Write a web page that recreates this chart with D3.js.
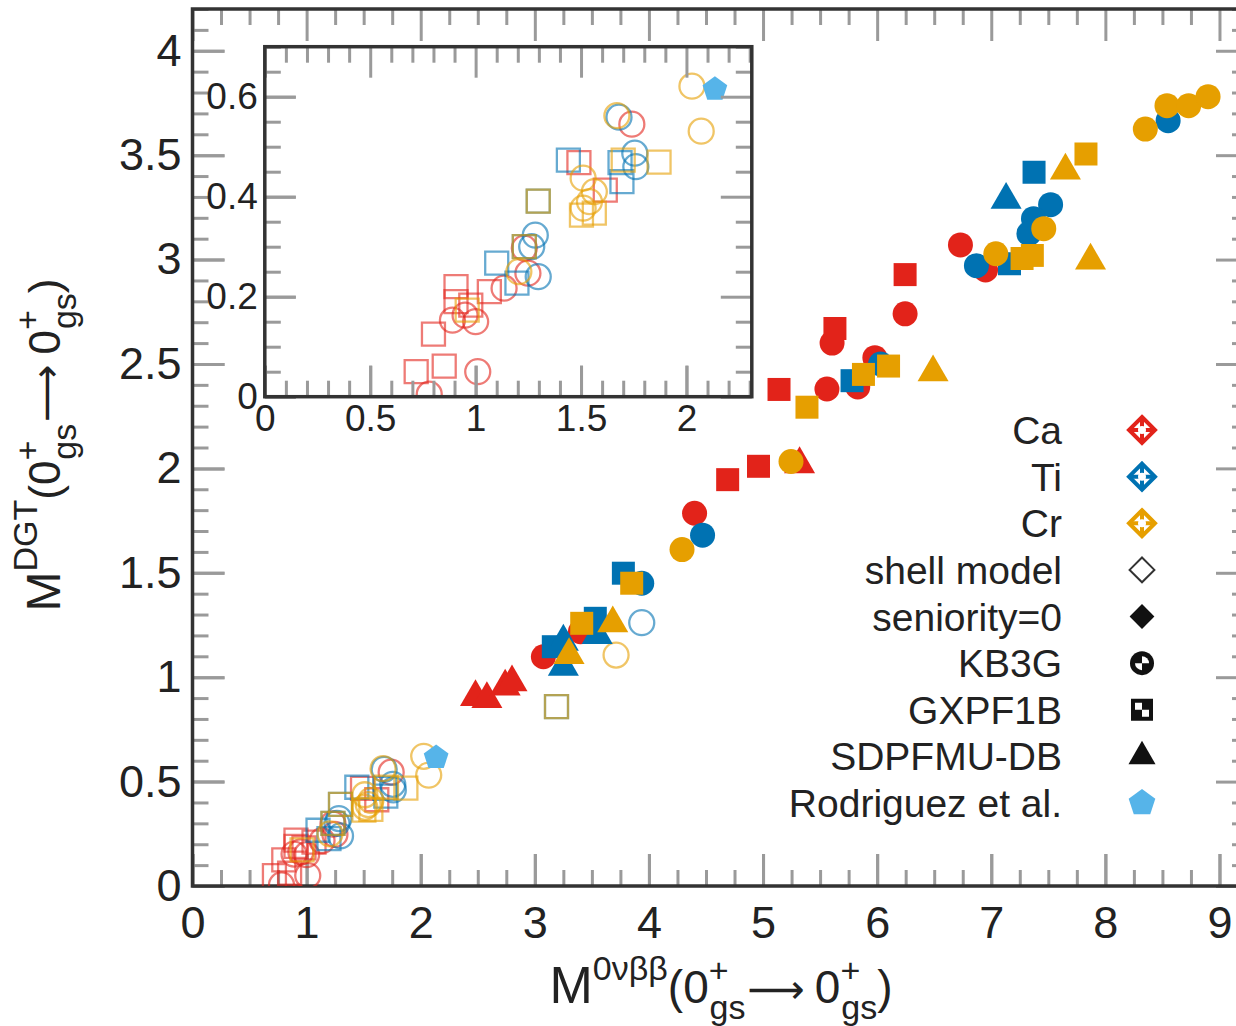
<!DOCTYPE html>
<html>
<head>
<meta charset="utf-8">
<script src="https://cdn.jsdelivr.net/npm/d3@7"></script>
<style>
body { margin: 0; background: #fff; }
svg text { font-family: "Liberation Sans", Arial, Helvetica, sans-serif; fill: #222; }
</style>
</head>
<body>
<svg id="chart" width="1236" height="1026"></svg>
<script>
// colours of the three nuclei
var red = "#e2231a", blue = "#0072b2", orange = "#e69f00", sky = "#56b4e9";

// shell model results (open markers), [M0vbb, MDGT]
var caKB3GShell = [[0.78,0.005],[1.01,0.05],[0.89,0.153],[0.95,0.163],[1.0,0.15],[1.135,0.217],[1.248,0.247],[1.231,0.297],[1.741,0.545]];
var tiKB3GShell = [[1.68,0.559],[1.755,0.487],[1.76,0.46],[1.283,0.323],[1.266,0.30],[1.297,0.24],[3.937,1.261]];
var crKB3GShell = [[2.026,0.621],[2.07,0.531],[1.67,0.562],[1.51,0.437],[1.563,0.41],[1.51,0.377],[1.54,0.39],[1.205,0.25],[3.712,1.106]];
var caGXPFShell = [[1.49,0.468],[1.615,0.413],[1.065,0.21],[0.907,0.22],[0.907,0.19],[0.977,0.183],[0.80,0.125],[0.718,0.05],[0.851,0.061]];
var tiGXPFShell = [[1.44,0.473],[1.685,0.468],[1.694,0.43],[1.297,0.391],[1.231,0.30],[1.10,0.267],[1.196,0.227],[3.19,0.859]];
var crGXPFShell = [[1.70,0.473],[1.87,0.469],[1.502,0.363],[1.563,0.367],[1.297,0.391],[1.231,0.30],[0.96,0.173],[3.19,0.859]];
var rodriguez = [[2.135,0.615]];

// seniority=0 results (filled markers)
var caKB3GSen = [[3.075,1.098],[3.40,1.218],[4.40,1.785],[5.56,2.38],[5.83,2.39],[5.98,2.53],[5.605,2.60],[6.245,2.74],[6.73,3.07],[6.95,2.95]];
var caGXPFSen = [[4.69,1.946],[4.96,2.01],[5.14,2.378],[5.63,2.67],[6.245,2.928]];
var caSDPFSen = [[2.48,0.905],[2.58,0.895],[2.74,0.955],[2.80,0.975],[5.32,2.02]];
var tiKB3GSen = [[8.55,3.665],[7.52,3.263],[7.37,3.196],[7.33,3.124],[6.87,2.971],[6.03,2.50],[4.47,1.68],[3.937,1.45]];
var tiGXPFSen = [[7.375,3.418],[7.16,2.98],[5.78,2.42],[3.776,1.498],[3.53,1.282],[3.162,1.146]];
var tiSDPFSen = [[7.13,3.286],[3.547,1.202],[3.25,1.17],[3.25,1.05]];
var crKB3GSen = [[8.35,3.625],[8.54,3.737],[8.73,3.737],[8.90,3.78],[7.46,3.148],[7.04,3.028],[5.245,2.033],[4.29,1.611]];
var crGXPFSen = [[7.83,3.505],[7.27,3.005],[7.36,3.02],[5.385,2.293],[5.88,2.45],[6.10,2.49],[3.849,1.45],[3.411,1.258]];
var crSDPFSen = [[7.65,3.426],[7.87,2.995],[6.49,2.46],[3.683,1.258],[3.30,1.106]];

// tick labels
var xTicksMain = [0,1,2,3,4,5,6,7,8,9];
var yTicksMain = [0,0.5,1,1.5,2,2.5,3,3.5,4];
var xTicksInset = [0,0.5,1,1.5,2];
var yTicksInset = [0,0.2,0.4,0.6];

var legendLabels = ["Ca","Ti","Cr","shell model","seniority=0","KB3G","GXPF1B","SDPFMU-DB","Rodriguez et al."];

var shellSeries = [
  {pts: caKB3GShell, color: red, shape: "circle"},
  {pts: caGXPFShell, color: red, shape: "square"},
  {pts: tiKB3GShell, color: blue, shape: "circle"},
  {pts: tiGXPFShell, color: blue, shape: "square"},
  {pts: crKB3GShell, color: orange, shape: "circle"},
  {pts: crGXPFShell, color: orange, shape: "square"}
];
var senSeries = [
  {pts: caKB3GSen, color: red, shape: "circle"},
  {pts: caGXPFSen, color: red, shape: "square"},
  {pts: caSDPFSen, color: red, shape: "triangle"},
  {pts: tiKB3GSen, color: blue, shape: "circle"},
  {pts: tiGXPFSen, color: blue, shape: "square"},
  {pts: tiSDPFSen, color: blue, shape: "triangle"},
  {pts: crKB3GSen, color: orange, shape: "circle"},
  {pts: crGXPFSen, color: orange, shape: "square"},
  {pts: crSDPFSen, color: orange, shape: "triangle"}
];

var svg = d3.select("#chart");

var x = d3.scaleLinear().domain([0, 9.25]).range([192.5, 1248]);
var y = d3.scaleLinear().domain([0, 4.2]).range([886, 9]);
var ix = d3.scaleLinear().domain([0, 2.31]).range([264.8, 751.8]);
var iy = d3.scaleLinear().domain([0, 0.70]).range([396.7, 46.7]);

var symbols = {
  circle: d3.symbol().type(d3.symbolCircle).size(Math.PI * 12.5 * 12.5),
  square: d3.symbol().type(d3.symbolSquare).size(23 * 23),
  triangle: d3.symbol().type(d3.symbolTriangle).size(Math.sqrt(3) / 4 * 31 * 31)
};

function pentagon(r) {
  var p = d3.path();
  for (var k = 0; k < 5; k++) {
    var a = -Math.PI / 2 + k * 2 * Math.PI / 5;
    if (k == 0) p.moveTo(r * Math.cos(a), r * Math.sin(a));
    else p.lineTo(r * Math.cos(a), r * Math.sin(a));
  }
  p.closePath();
  return p.toString();
}

function steps(lo, hi, st) {
  var n = Math.floor((hi - lo) / st + 1e-6);
  return d3.range(n + 1).map(function(i) { return +(lo + i * st).toFixed(4); });
}

// ticks on all four sides, pointing inwards
function frame(g, xs, ys, o) {
  var x0 = xs.range()[0], x1 = xs.range()[1], y0 = ys.range()[0], y1 = ys.range()[1];
  var minorX = steps(0, xs.domain()[1], o.xMinor).filter(function(v) { return Math.abs(v / o.xMajor - Math.round(v / o.xMajor)) > 1e-6; });
  var minorY = steps(0, ys.domain()[1], o.yMinor).filter(function(v) { return Math.abs(v / o.yMajor - Math.round(v / o.yMajor)) > 1e-6; });
  var majorX = steps(0, xs.domain()[1], o.xMajor), majorY = steps(0, ys.domain()[1], o.yMajor);
  var fmt = function(d) { return String(+d.toFixed(2)); };
  var strip = function(s) { s.select(".domain").remove(); s.selectAll("line").attr("stroke", "#9a9a9a").attr("stroke-width", 3); };

  g.append("g").attr("transform", "translate(0," + y0 + ")")
    .call(d3.axisBottom(xs).tickValues(minorX).tickSize(-o.short).tickFormat("")).call(strip);
  g.append("g").attr("transform", "translate(0," + y1 + ")")
    .call(d3.axisTop(xs).tickValues(minorX).tickSize(-o.short).tickFormat("")).call(strip);
  g.append("g").attr("transform", "translate(0," + y1 + ")")
    .call(d3.axisTop(xs).tickValues(majorX).tickSize(-o.long).tickFormat("")).call(strip);
  g.append("g").attr("transform", "translate(" + x0 + ",0)")
    .call(d3.axisLeft(ys).tickValues(minorY).tickSize(-o.short).tickFormat("")).call(strip);
  g.append("g").attr("transform", "translate(" + x1 + ",0)")
    .call(d3.axisRight(ys).tickValues(minorY).tickSize(-o.short).tickFormat("")).call(strip);
  g.append("g").attr("transform", "translate(" + x1 + ",0)")
    .call(d3.axisRight(ys).tickValues(majorY).tickSize(-o.long).tickFormat("")).call(strip);

  var bx = g.append("g").attr("transform", "translate(0," + y0 + ")")
    .call(d3.axisBottom(xs).tickValues(o.xLabels).tickSize(-o.long).tickPadding(o.xPad).tickFormat(fmt));
  bx.call(strip);
  bx.selectAll("text").attr("font-size", o.font).attr("font-family", "Liberation Sans, Arial, sans-serif").style("fill", "#222");
  var ly = g.append("g").attr("transform", "translate(" + x0 + ",0)")
    .call(d3.axisLeft(ys).tickValues(o.yLabels).tickSize(-o.long).tickPadding(o.yPad).tickFormat(fmt));
  ly.call(strip);
  ly.selectAll("text").attr("font-size", o.font).attr("font-family", "Liberation Sans, Arial, sans-serif").style("fill", "#222");
  g.append("g").attr("transform", "translate(0," + y0 + ")")
    .call(d3.axisBottom(xs).tickValues(majorX).tickSize(-o.long).tickFormat("")).call(strip);
  g.append("g").attr("transform", "translate(" + x0 + ",0)")
    .call(d3.axisLeft(ys).tickValues(majorY).tickSize(-o.long).tickFormat("")).call(strip);

  g.append("rect").attr("x", x0).attr("y", y1).attr("width", x1 - x0).attr("height", y0 - y1)
    .attr("fill", "none").attr("stroke", "#333").attr("stroke-width", 3.5);
}

function drawMarkers(g, xs, ys, list, filled) {
  list.forEach(function(s) {
    g.append("g").selectAll("path").data(s.pts).enter().append("path")
      .attr("transform", function(d) { return "translate(" + xs(d[0]) + "," + ys(d[1]) + ")"; })
      .attr("d", symbols[s.shape])
      .attr("fill", filled ? s.color : "none")
      .attr("stroke", filled ? "none" : s.color)
      .attr("stroke-width", 2.3)
      .attr("stroke-opacity", filled ? 1 : 0.6);
  });
}

function drawRodriguez(g, xs, ys) {
  g.append("g").selectAll("path").data(rodriguez).enter().append("path")
    .attr("transform", function(d) { return "translate(" + xs(d[0]) + "," + ys(d[1]) + ")"; })
    .attr("d", pentagon(13)).attr("fill", sky);
}

var defs = svg.append("defs");
defs.append("clipPath").attr("id", "clipMain").append("rect")
  .attr("x", x.range()[0]).attr("y", y.range()[1]).attr("width", x.range()[1] - x.range()[0]).attr("height", y.range()[0] - y.range()[1]);
defs.append("clipPath").attr("id", "clipInset").append("rect")
  .attr("x", ix.range()[0]).attr("y", iy.range()[1]).attr("width", ix.range()[1] - ix.range()[0]).attr("height", iy.range()[0] - iy.range()[1]);

// main panel
var main = svg.append("g");
frame(main, x, y, {xMinor: 0.25, xMajor: 1, yMinor: 0.1, yMajor: 0.5, long: 32, short: 16,
  xLabels: xTicksMain, yLabels: yTicksMain, xPad: 20, yPad: 11, font: 45});
var mainPts = main.append("g").attr("clip-path", "url(#clipMain)");
drawMarkers(mainPts, x, y, shellSeries, false);
drawMarkers(mainPts, x, y, senSeries, true);
drawRodriguez(mainPts, x, y);

// inset panel
var inset = svg.append("g");
inset.append("rect").attr("x", ix.range()[0]).attr("y", iy.range()[1])
  .attr("width", ix.range()[1] - ix.range()[0]).attr("height", iy.range()[0] - iy.range()[1]).attr("fill", "#fff");
var insetPts = inset.append("g").attr("clip-path", "url(#clipInset)");
drawMarkers(insetPts, ix, iy, shellSeries, false);
drawRodriguez(insetPts, ix, iy);
frame(inset, ix, iy, {xMinor: 0.1, xMajor: 0.5, yMinor: 0.05, yMajor: 0.2, long: 31, short: 16,
  xLabels: xTicksInset, yLabels: yTicksInset, xPad: 8, yPad: 7, font: 37});

// legend
var ly = d3.scalePoint().domain(legendLabels).range([430, 803]);
var leg = svg.append("g");
leg.selectAll("text").data(legendLabels).enter().append("text")
  .attr("x", 1062).attr("y", function(d) { return ly(d); }).attr("dy", "0.36em")
  .attr("text-anchor", "end").attr("font-size", 39).text(function(d) { return d; });

var mx = 1142;
[red, blue, orange].forEach(function(c, i) {
  var m = leg.append("g").attr("transform", "translate(" + mx + "," + ly(legendLabels[i]) + ")");
  m.append("path").attr("d", "M0,-13L13,0L0,13L-13,0Z").attr("fill", "#fff").attr("stroke", c).attr("stroke-width", 4);
  m.append("path").attr("d", "M-12,0H12M0,-12V12").attr("stroke", c).attr("stroke-width", 4);
  m.append("circle").attr("r", 4).attr("fill", "#fff");
});
var diamond = d3.symbol().type(d3.symbolDiamond2).size(28 * 28 / 2);
leg.append("path").attr("transform", "translate(" + mx + "," + ly("shell model") + ")")
  .attr("d", diamond).attr("fill", "#fff").attr("stroke", "#333").attr("stroke-width", 2);
leg.append("path").attr("transform", "translate(" + mx + "," + ly("seniority=0") + ")")
  .attr("d", diamond).attr("fill", "#111");
var kb = leg.append("g").attr("transform", "translate(" + mx + "," + ly("KB3G") + ")");
kb.append("circle").attr("r", 12).attr("fill", "#111");
kb.append("path").attr("d", d3.arc()({innerRadius: 0, outerRadius: 7, startAngle: 0, endAngle: Math.PI / 2})).attr("fill", "#fff");
kb.append("path").attr("d", d3.arc()({innerRadius: 0, outerRadius: 7, startAngle: Math.PI, endAngle: 1.5 * Math.PI})).attr("fill", "#fff");
var gx = leg.append("g").attr("transform", "translate(" + mx + "," + ly("GXPF1B") + ")");
gx.append("rect").attr("x", -11).attr("y", -11).attr("width", 22).attr("height", 22).attr("fill", "#111");
gx.append("rect").attr("x", -7).attr("y", -7).attr("width", 7).attr("height", 7).attr("fill", "#fff");
gx.append("rect").attr("x", 0).attr("y", 0).attr("width", 7).attr("height", 7).attr("fill", "#fff");
leg.append("path").attr("transform", "translate(" + mx + "," + ly("SDPFMU-DB") + ")")
  .attr("d", d3.symbol().type(d3.symbolTriangle).size(Math.sqrt(3) / 4 * 27 * 27)).attr("fill", "#111");
leg.append("path").attr("transform", "translate(" + mx + "," + ly("Rodriguez et al.") + ")")
  .attr("d", pentagon(14)).attr("fill", sky);

// axis titles
function title(t, big, sup) {
  t.append("tspan").attr("font-size", big).text("M");
  t.append("tspan").attr("font-size", 34).attr("dy", -23).text(sup);
  t.append("tspan").attr("dy", 23).text("(0");
  t.append("tspan").attr("font-size", 34).attr("dy", -21).text("+");
  t.append("tspan").attr("font-size", 34).attr("dx", -19).attr("dy", 37).text("gs");
  t.append("tspan").attr("dy", -16).attr("dx", 2).attr("font-family", "DejaVu Sans").attr("font-size", 40).text("⟶");
  t.append("tspan").attr("dx", 10).text("0");
  t.append("tspan").attr("font-size", 34).attr("dy", -21).text("+");
  t.append("tspan").attr("font-size", 34).attr("dx", -19).attr("dy", 37).text("gs");
  t.append("tspan").attr("dy", -16).text(")");
}
title(svg.append("text").attr("x", 721).attr("y", 1003).attr("text-anchor", "middle").attr("font-size", 46), 52, "0νββ");
title(svg.append("text").attr("transform", "translate(60,445) rotate(-90)").attr("text-anchor", "middle").attr("font-size", 44), 48, "DGT");
</script>
</body>
</html>
